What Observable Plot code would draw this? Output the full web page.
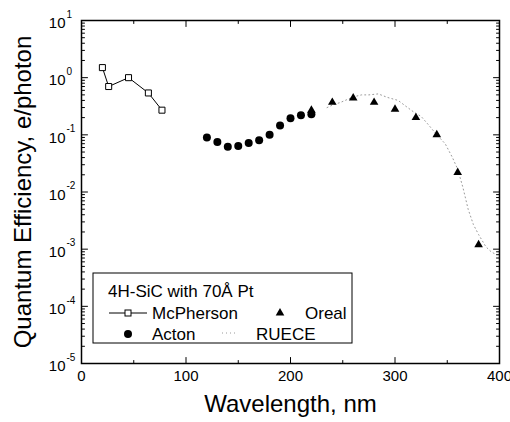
<!DOCTYPE html>
<html>
<head>
<meta charset="utf-8">
<script src="https://cdn.jsdelivr.net/npm/d3@7"></script>
<script src="https://cdn.jsdelivr.net/npm/@observablehq/plot@0.6"></script>
<style>
  html, body { margin: 0; padding: 0; background: #fff; }
  svg { font-family: "Liberation Sans", Arial, Helvetica, sans-serif; }
</style>
</head>
<body>
<div id="chart"></div>
<script>
// ---- data ----
const mcphersonWl = [20, 26, 45, 64, 77];
const mcphersonQE = [1.5, 0.7, 1.0, 0.54, 0.27];

const actonWl = [120, 130, 140, 150, 160, 170, 180, 190, 200, 210, 220];
const actonQE = [0.09, 0.075, 0.062, 0.064, 0.072, 0.08, 0.1, 0.145, 0.195, 0.22, 0.23];

const orealWl = [220, 240, 260, 280, 300, 320, 340, 360, 380];
const orealQE = [0.27, 0.37, 0.44, 0.37, 0.28, 0.2, 0.1, 0.022, 0.0012];

const rueceWl = [235, 240, 248, 255, 262, 268, 275, 284, 293, 303, 310, 318, 325, 332, 340, 348, 355, 360, 365, 370, 375, 380, 387, 392, 397];
const rueceQE = [0.3, 0.33, 0.37, 0.42, 0.47, 0.5, 0.5, 0.52, 0.45, 0.4, 0.32, 0.25, 0.21, 0.15, 0.1, 0.07, 0.04, 0.025, 0.012, 0.005, 0.0027, 0.0018, 0.0011, 0.0009, 0.0008];

const xTickLabels = [0, 100, 200, 300, 400];
const xMinorTicks = [50, 150, 250, 350];
const yExponents = [-5, -4, -3, -2, -1, 0, 1];

const xLabel = "Wavelength, nm";
const yLabel = "Quantum Efficiency, e/photon";

// ---- build tables ----
const mcpherson = mcphersonWl.map((w, i) => ({wl: w, qe: mcphersonQE[i]}));
const acton = actonWl.map((w, i) => ({wl: w, qe: actonQE[i]}));
const oreal = orealWl.map((w, i) => ({wl: w, qe: orealQE[i]}));
const ruece = rueceWl.map((w, i) => ({wl: w, qe: rueceQE[i]}));

const yMajor = yExponents.map(e => Math.pow(10, e));
const yMinor = [];
for (const e of yExponents.slice(0, -1)) for (let m = 2; m <= 9; m++) yMinor.push(m * Math.pow(10, e));

const tickShape = {draw(ctx, l) { ctx.moveTo(0, 0); ctx.lineTo(0, -l); }};
const tk = (data, opts) => Plot.vector(data, {shape: tickShape, anchor: "start", stroke: "black", strokeWidth: 1, ...opts});

const chart = Plot.plot({
  width: 510,
  height: 422,
  marginLeft: 81,
  marginRight: 11,
  marginTop: 20,
  marginBottom: 59,
  style: {fontFamily: '"Liberation Sans", Arial, sans-serif', background: "#fff"},
  x: {domain: [0, 400], axis: null},
  y: {type: "log", domain: [1e-5, 10], axis: null},
  marks: [
    // ticks (inward, all four sides)
    tk(xTickLabels, {x: d => d, frameAnchor: "bottom", rotate: 0, length: 6}),
    tk(xMinorTicks, {x: d => d, frameAnchor: "bottom", rotate: 0, length: 3}),
    tk(xTickLabels, {x: d => d, frameAnchor: "top", rotate: 180, length: 6}),
    tk(xMinorTicks, {x: d => d, frameAnchor: "top", rotate: 180, length: 3}),
    tk(yMajor, {y: d => d, frameAnchor: "left", rotate: 90, length: 6}),
    tk(yMinor, {y: d => d, frameAnchor: "left", rotate: 90, length: 3}),
    tk(yMajor, {y: d => d, frameAnchor: "right", rotate: -90, length: 6}),
    tk(yMinor, {y: d => d, frameAnchor: "right", rotate: -90, length: 3}),
    // tick labels
    Plot.text(xTickLabels, {x: d => d, frameAnchor: "bottom", dy: 17, text: d => String(d), fontSize: 15, fill: "black", textAnchor: "middle"}),
    Plot.text(yMajor, {y: d => d, frameAnchor: "left", dx: -16, dy: 3, textAnchor: "end", text: () => "10", fontSize: 15, fill: "black"}),
    Plot.text(yMajor, {y: d => d, frameAnchor: "left", dx: -15, dy: -6, textAnchor: "start", text: d => String(Math.round(Math.log10(d))), fontSize: 10, fill: "black"}),
    // axis labels
    Plot.text([xLabel], {frameAnchor: "bottom", dy: 48, text: d => d, fontSize: 24, fill: "black", textAnchor: "middle"}),
    Plot.text([yLabel], {frameAnchor: "left", dx: -58, rotate: -90, text: d => d, fontSize: 24, fill: "black", textAnchor: "middle"}),
    // RUECE (faint dotted)
    Plot.line(ruece, {x: "wl", y: "qe", stroke: "#9a9a9a", strokeWidth: 1, strokeDasharray: "1,3"}),
    // McPherson
    Plot.line(mcpherson, {x: "wl", y: "qe", stroke: "black", strokeWidth: 1}),
    Plot.dot(mcpherson, {x: "wl", y: "qe", symbol: "square", r: 3.4, fill: "white", stroke: "black", strokeWidth: 1}),
    // Oreal
    Plot.dot(oreal, {x: "wl", y: "qe", symbol: "triangle", r: 3.2, fill: "black"}),
    // Acton
    Plot.dot(acton, {x: "wl", y: "qe", symbol: "circle", r: 4, fill: "black"}),
    Plot.frame({stroke: "black", strokeWidth: 1.5})
  ]
});

document.getElementById("chart").appendChild(chart);

// ---- legend box drawn inside the plot area ----
const svg = d3.select(chart);
const g = svg.append("g")
  .attr("font-family", '"Liberation Sans", Arial, sans-serif')
  .attr("text-anchor", "start")
  .attr("fill", "black");
g.append("rect").attr("x", 93).attr("y", 273).attr("width", 259).attr("height", 70)
  .attr("fill", "white").attr("stroke", "black").attr("stroke-width", 1);
g.append("text").attr("x", 108).attr("y", 297).attr("font-size", 17).text("4H-SiC with 70\u00C5 Pt");
// McPherson
g.append("line").attr("x1", 109).attr("x2", 147).attr("y1", 313).attr("y2", 313).attr("stroke", "black");
g.append("rect").attr("x", 125).attr("y", 310).attr("width", 6).attr("height", 6).attr("fill", "white").attr("stroke", "black");
g.append("text").attr("x", 152).attr("y", 319).attr("font-size", 17).text("McPherson");
// Acton
g.append("circle").attr("cx", 128).attr("cy", 334).attr("r", 4).attr("fill", "black");
g.append("text").attr("x", 152).attr("y", 340).attr("font-size", 17).text("Acton");
// Oreal
g.append("path").attr("d", d3.symbol(d3.symbolTriangle, Math.PI * 3.2 * 3.2)()).attr("transform", "translate(280,313)").attr("fill", "black");
g.append("text").attr("x", 305).attr("y", 319).attr("font-size", 17).text("Oreal");
// RUECE
g.append("line").attr("x1", 222).attr("x2", 238).attr("y1", 333).attr("y2", 333).attr("stroke", "#9a9a9a").attr("stroke-dasharray", "1,3");
g.append("text").attr("x", 256).attr("y", 340).attr("font-size", 17).text("RUECE");
</script>
</body>
</html>
